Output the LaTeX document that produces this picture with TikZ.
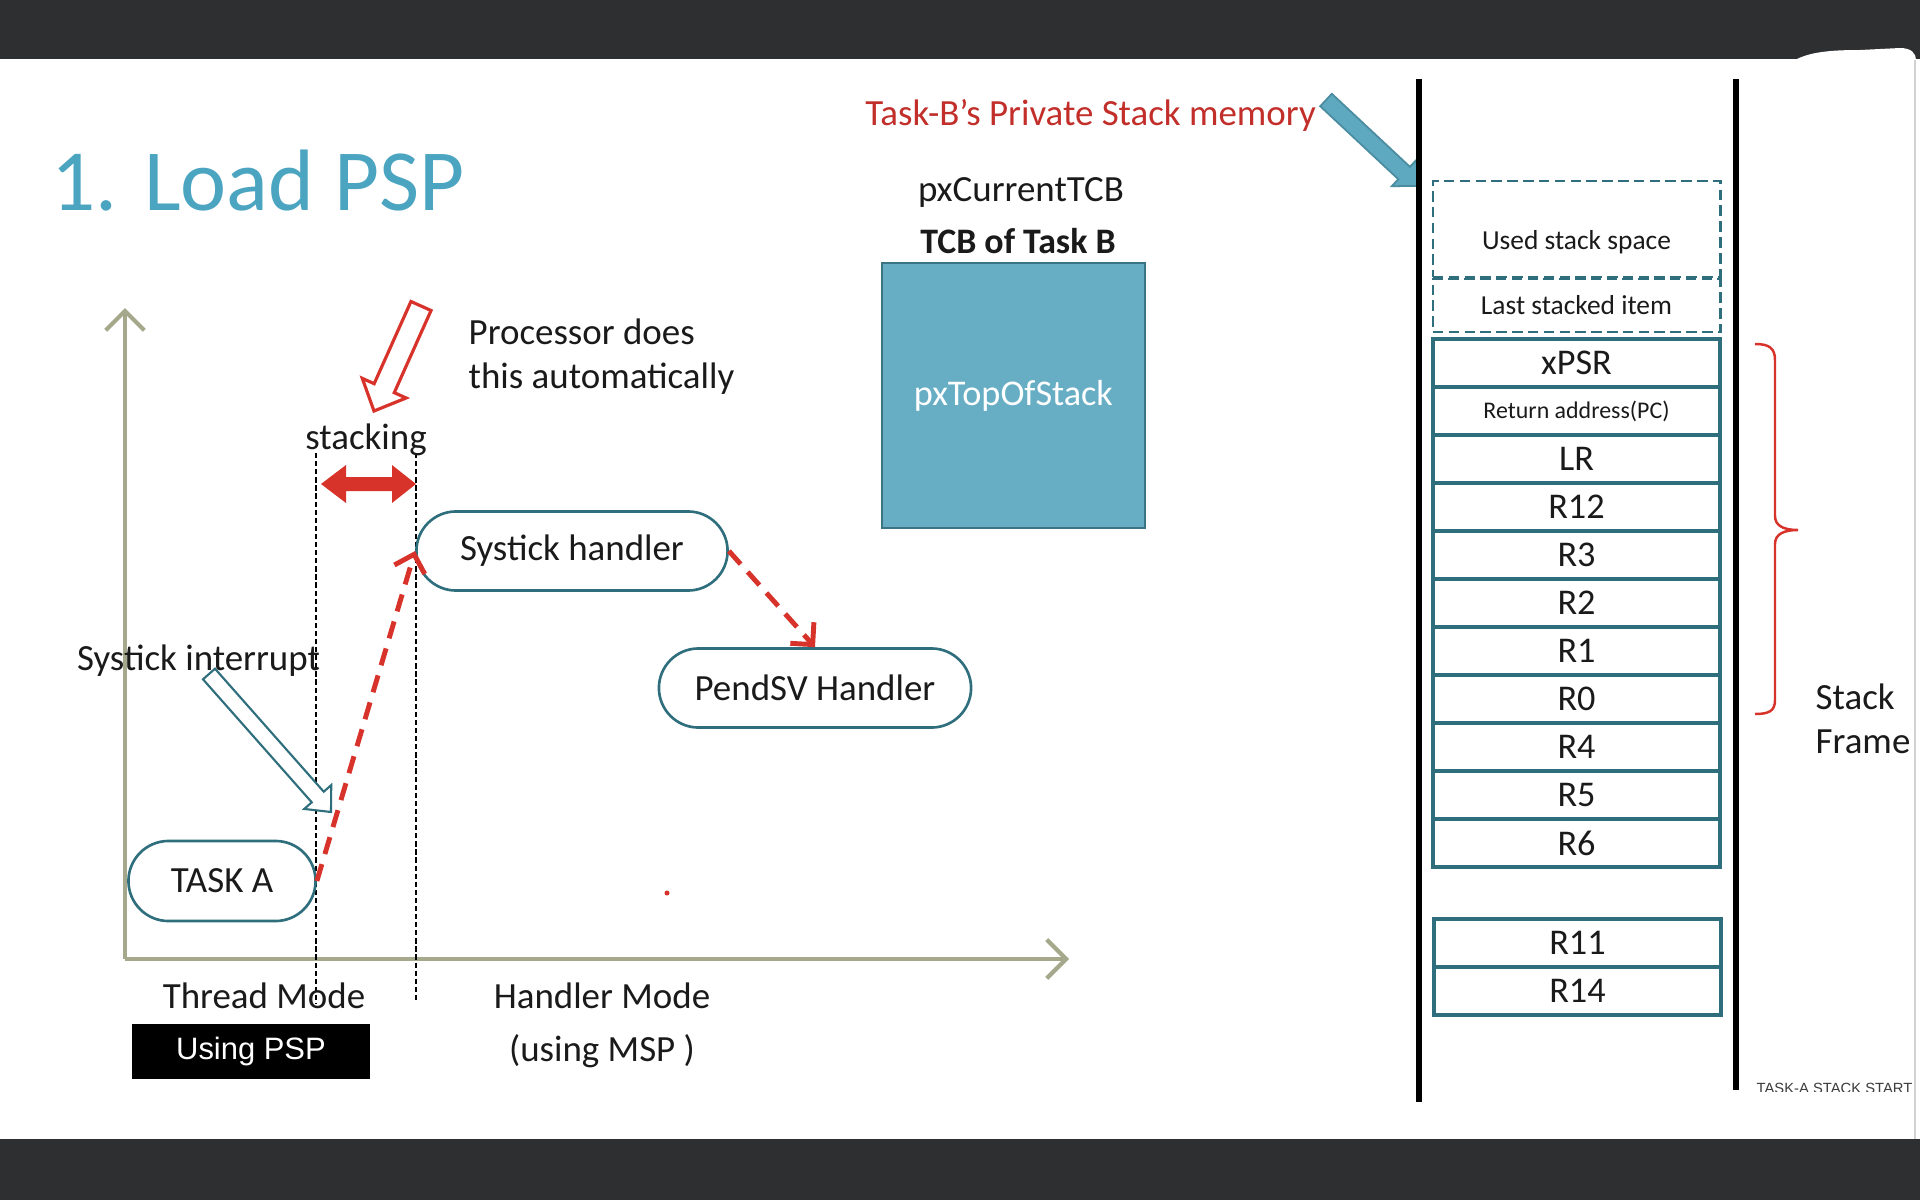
\documentclass[tikz,border=0pt]{standalone}
\usepackage{fontspec}
\setmainfont{Carlito}
\newfontfamily\arialfont{Liberation Sans}
\usetikzlibrary{shapes.misc,arrows.meta,calc}

\definecolor{band}{HTML}{2E2F31}
\definecolor{titleblue}{HTML}{4BA5C1}
\definecolor{axisol}{HTML}{A6A88B}
\definecolor{tealdk}{HTML}{2F6E7C}
\definecolor{redA}{HTML}{D7332B}
\definecolor{redtxt}{HTML}{C22F2A}
\definecolor{bluefill}{HTML}{67AEC5}
\definecolor{bluedk}{HTML}{3B7585}
\definecolor{bluearr}{HTML}{5FA9C0}
\definecolor{bluearrdk}{HTML}{4A8CA0}
\definecolor{ink}{HTML}{1A1A1A}

% block arrow: #1 style, #2 tail, #3 tip, #4 shaft half width, #5 head half width, #6 head length
\newcommand{\blockarrow}[6]{%
  \coordinate (ba-base) at ($#3!#6!#2$);
  \draw[#1] ($#2!#4!90:#3$) -- ($(ba-base)!#4!90:#3$) -- ($(ba-base)!#5!90:#3$) -- #3
    -- ($(ba-base)!#5!-90:#3$) -- ($(ba-base)!#4!-90:#3$) -- ($#2!#4!-90:#3$) -- cycle;}

\begin{document}
\begin{tikzpicture}[x=0.01cm,y=-0.01cm,
  lbl/.style={font=\fontsize{10.5}{12.5}\selectfont, text=ink, inner sep=0pt},
  proc/.style={rounded rectangle, draw=tealdk, line width=0.75pt, minimum height=0.79cm,
    inner sep=0pt, font=\fontsize{10.5}{12.5}\selectfont, text=ink},
  reg/.style={draw=tealdk, line width=0.95pt, fill=white, minimum width=2.87cm,
    minimum height=0.48cm, inner sep=0pt, font=\fontsize{10.3}{12}\selectfont, text=ink},
  dashbox/.style={draw=tealdk, line width=0.8pt, dash pattern=on 3pt off 1.5pt,
    minimum width=2.87cm, inner sep=0pt},
  axis/.style={draw=axisol, line width=1.2pt, -{Straight Barb[length=5.5pt,width=11pt]}},
  reddash/.style={draw=redA, line width=1.4pt, dash pattern=on 5pt off 3pt,
    -{Straight Barb[length=4.5pt,width=9pt]}},
  vdash/.style={draw=black, line width=0.35pt, dash pattern=on 1.5pt off 0.8pt},
  rail/.style={draw=black, line width=1.7pt},
  hollowred/.style={draw=redA, fill=white, line width=0.9pt, line join=miter},
  hollowteal/.style={draw=tealdk, fill=white, line width=0.6pt, line join=miter},
  solidblue/.style={draw=bluearrdk, fill=bluearr, line width=0.5pt, line join=miter}]

\useasboundingbox (0,0) rectangle (1920,1200);
\fill[white] (0,0) rectangle (1920,1200);
\fill[band] (0,0) rectangle (1920,59);
\fill[band] (0,1139) rectangle (1920,1200);
% rounded white corner of the slide reaching into the top band
\fill[white] (1795,60) .. controls (1810,52) and (1830,50) .. (1860,50) -- (1900,48)
  .. controls (1912,48) and (1916,54) .. (1916,60) -- cycle;
\draw[gray!35, line width=0.6pt] (1915,60) -- (1915,1139);

% title
\node[anchor=base west, inner sep=0pt, text=titleblue, font=\fontsize{24.8}{30}\selectfont]
  (title) at (51,210) {1. Load PSP};

% axes
\coordinate (origin) at (125,959);
\coordinate (ytip) at (125,308);
\coordinate (xtip) at (1069,959);
\draw[axis] (origin) -- (ytip);
\draw[axis] (origin) -- (xtip);

% mode boundaries
\coordinate (vl1t) at (316,453);
\coordinate (vl1b) at (316,1004);
\coordinate (vl2t) at (416,453);
\coordinate (vl2b) at (416,1002);
\draw[vdash] (vl1t) -- (vl1b);
\draw[vdash] (vl2t) -- (vl2b);

% stacking interval
\node[lbl] (stacking) at (366,440) {stacking};
\coordinate (stkL) at (321,484);
\coordinate (stkR) at (416,484);
\fill[redA] (stkL) -- (346,465) -- (346,477) -- (392,477) -- (392,465) -- (stkR)
  -- (392,503) -- (392,491) -- (346,491) -- (346,503) -- cycle;

% processor note
\node[lbl, anchor=west, align=left] (procnote) at (468,357) {Processor does\\this automatically};
\coordinate (procT) at (421,306);
\coordinate (procP) at (374,411);
\blockarrow{hollowred}{(procT)}{(procP)}{0.11cm}{0.24cm}{0.25cm}

% handlers and task
\node[proc, minimum width=3.11cm] (systick) at (572,551) {Systick handler};
\node[proc, minimum width=3.12cm] (pendsv) at (815,688) {PendSV Handler};
\node[proc, minimum width=1.87cm, minimum height=0.80cm] (taska) at (222,881) {TASK A};

\draw[reddash] (taska.east) -- (systick.west);
\draw[reddash] (systick.east) -- (pendsv.north);

% interrupt
\node[lbl] (sysint) at (198.5,661) {Systick interrupt};
\coordinate (intT) at (209,674);
\coordinate (intP) at (331,812);
\blockarrow{hollowteal}{(intT)}{(intP)}{0.08cm}{0.18cm}{0.20cm}

\fill[redA] (667,893) circle[radius=2.5];

% mode labels
\node[lbl] (thread) at (264,996) {Thread Mode};
\node[fill=black, minimum width=2.38cm, minimum height=0.55cm, inner sep=0pt, text=white,
  font=\arialfont\fontsize{8.8}{10}\selectfont] (psp) at (251,1051.5) {Using PSP};
\node[lbl, align=center, font=\fontsize{10.5}{15}\selectfont] (handler) at (602,1025) {Handler Mode\\(using MSP )};

% TCB
\node[lbl] (curtcb) at (1021,192) {pxCurrentTCB};
\node[lbl, font=\bfseries\fontsize{10.2}{12}\selectfont] (tcbname) at (1018,241) {TCB of Task B};
\node[draw=bluedk, fill=bluefill, line width=0.6pt, minimum width=2.63cm, minimum height=2.65cm,
  inner sep=0pt, text=white, font=\fontsize{10.3}{12}\selectfont] (tcbbox) at (1013.5,395.5) {pxTopOfStack};

% private stack memory
\node[lbl, text=redtxt] (memlbl) at (1090.5,115) {Task-B’s Private Stack memory};
\coordinate (memT) at (1326,100);
\coordinate (memP) at (1418,186);
\blockarrow{solidblue}{(memT)}{(memP)}{0.085cm}{0.18cm}{0.19cm}

% stack rails
\coordinate (railLt) at (1419,79);
\coordinate (railLb) at (1419,1102);
\coordinate (railRt) at (1736,79);
\coordinate (railRb) at (1736,1090);
\draw[rail] (railLt) -- (railLb);
\draw[rail] (railRt) -- (railRb);

% stack contents
\node[dashbox, minimum height=0.96cm] (used) at (1576.5,229) {};
\node[lbl, font=\fontsize{7.8}{9}\selectfont] (usedtxt) at (1576.5,242) {Used stack space};
\node[dashbox, minimum height=0.53cm, font=\fontsize{7.8}{9}\selectfont, text=ink] (last) at (1576.5,305.5) {Last stacked item};

\node[reg] (xpsr) at (1576.5,363) {xPSR};
\node[reg, font=\fontsize{6.8}{8}\selectfont] (pc) at (1576.5,411) {Return address(PC)};
\node[reg] (lr)  at (1576.5,459) {LR};
\node[reg] (r12) at (1576.5,507) {R12};
\node[reg] (r3)  at (1576.5,555) {R3};
\node[reg] (r2)  at (1576.5,603) {R2};
\node[reg] (r1)  at (1576.5,651) {R1};
\node[reg] (r0)  at (1576.5,699) {R0};
\node[reg] (r4)  at (1576.5,747) {R4};
\node[reg] (r5)  at (1576.5,795) {R5};
\node[reg] (r6)  at (1576.5,843) {R6};
\node[reg] (r11) at (1577.5,943) {R11};
\node[reg] (r14) at (1577.5,991) {R14};

% stack frame brace
\draw[redA, line width=0.7pt] (1755,344) .. controls (1769,344) and (1775,348) .. (1775,360)
  -- (1775,516) .. controls (1775,526) and (1784,530) .. (1798,530)
  .. controls (1784,530) and (1775,534) .. (1775,544)
  -- (1775,700) .. controls (1775,711) and (1769,714) .. (1755,714);
\node[lbl, anchor=west, align=left] (frame) at (1815,719) {Stack\\Frame};

% bottom note, its lower edge hidden by the slide border
\begin{scope}
  \clip (1740,1070) rectangle (1920,1091.5);
  \node[anchor=west, inner sep=0pt, text=ink!85, font=\arialfont\fontsize{4.2}{5}\selectfont]
    (stackstart) at (1756,1088) {TASK-A STACK START};
\end{scope}

\end{tikzpicture}
\end{document}
